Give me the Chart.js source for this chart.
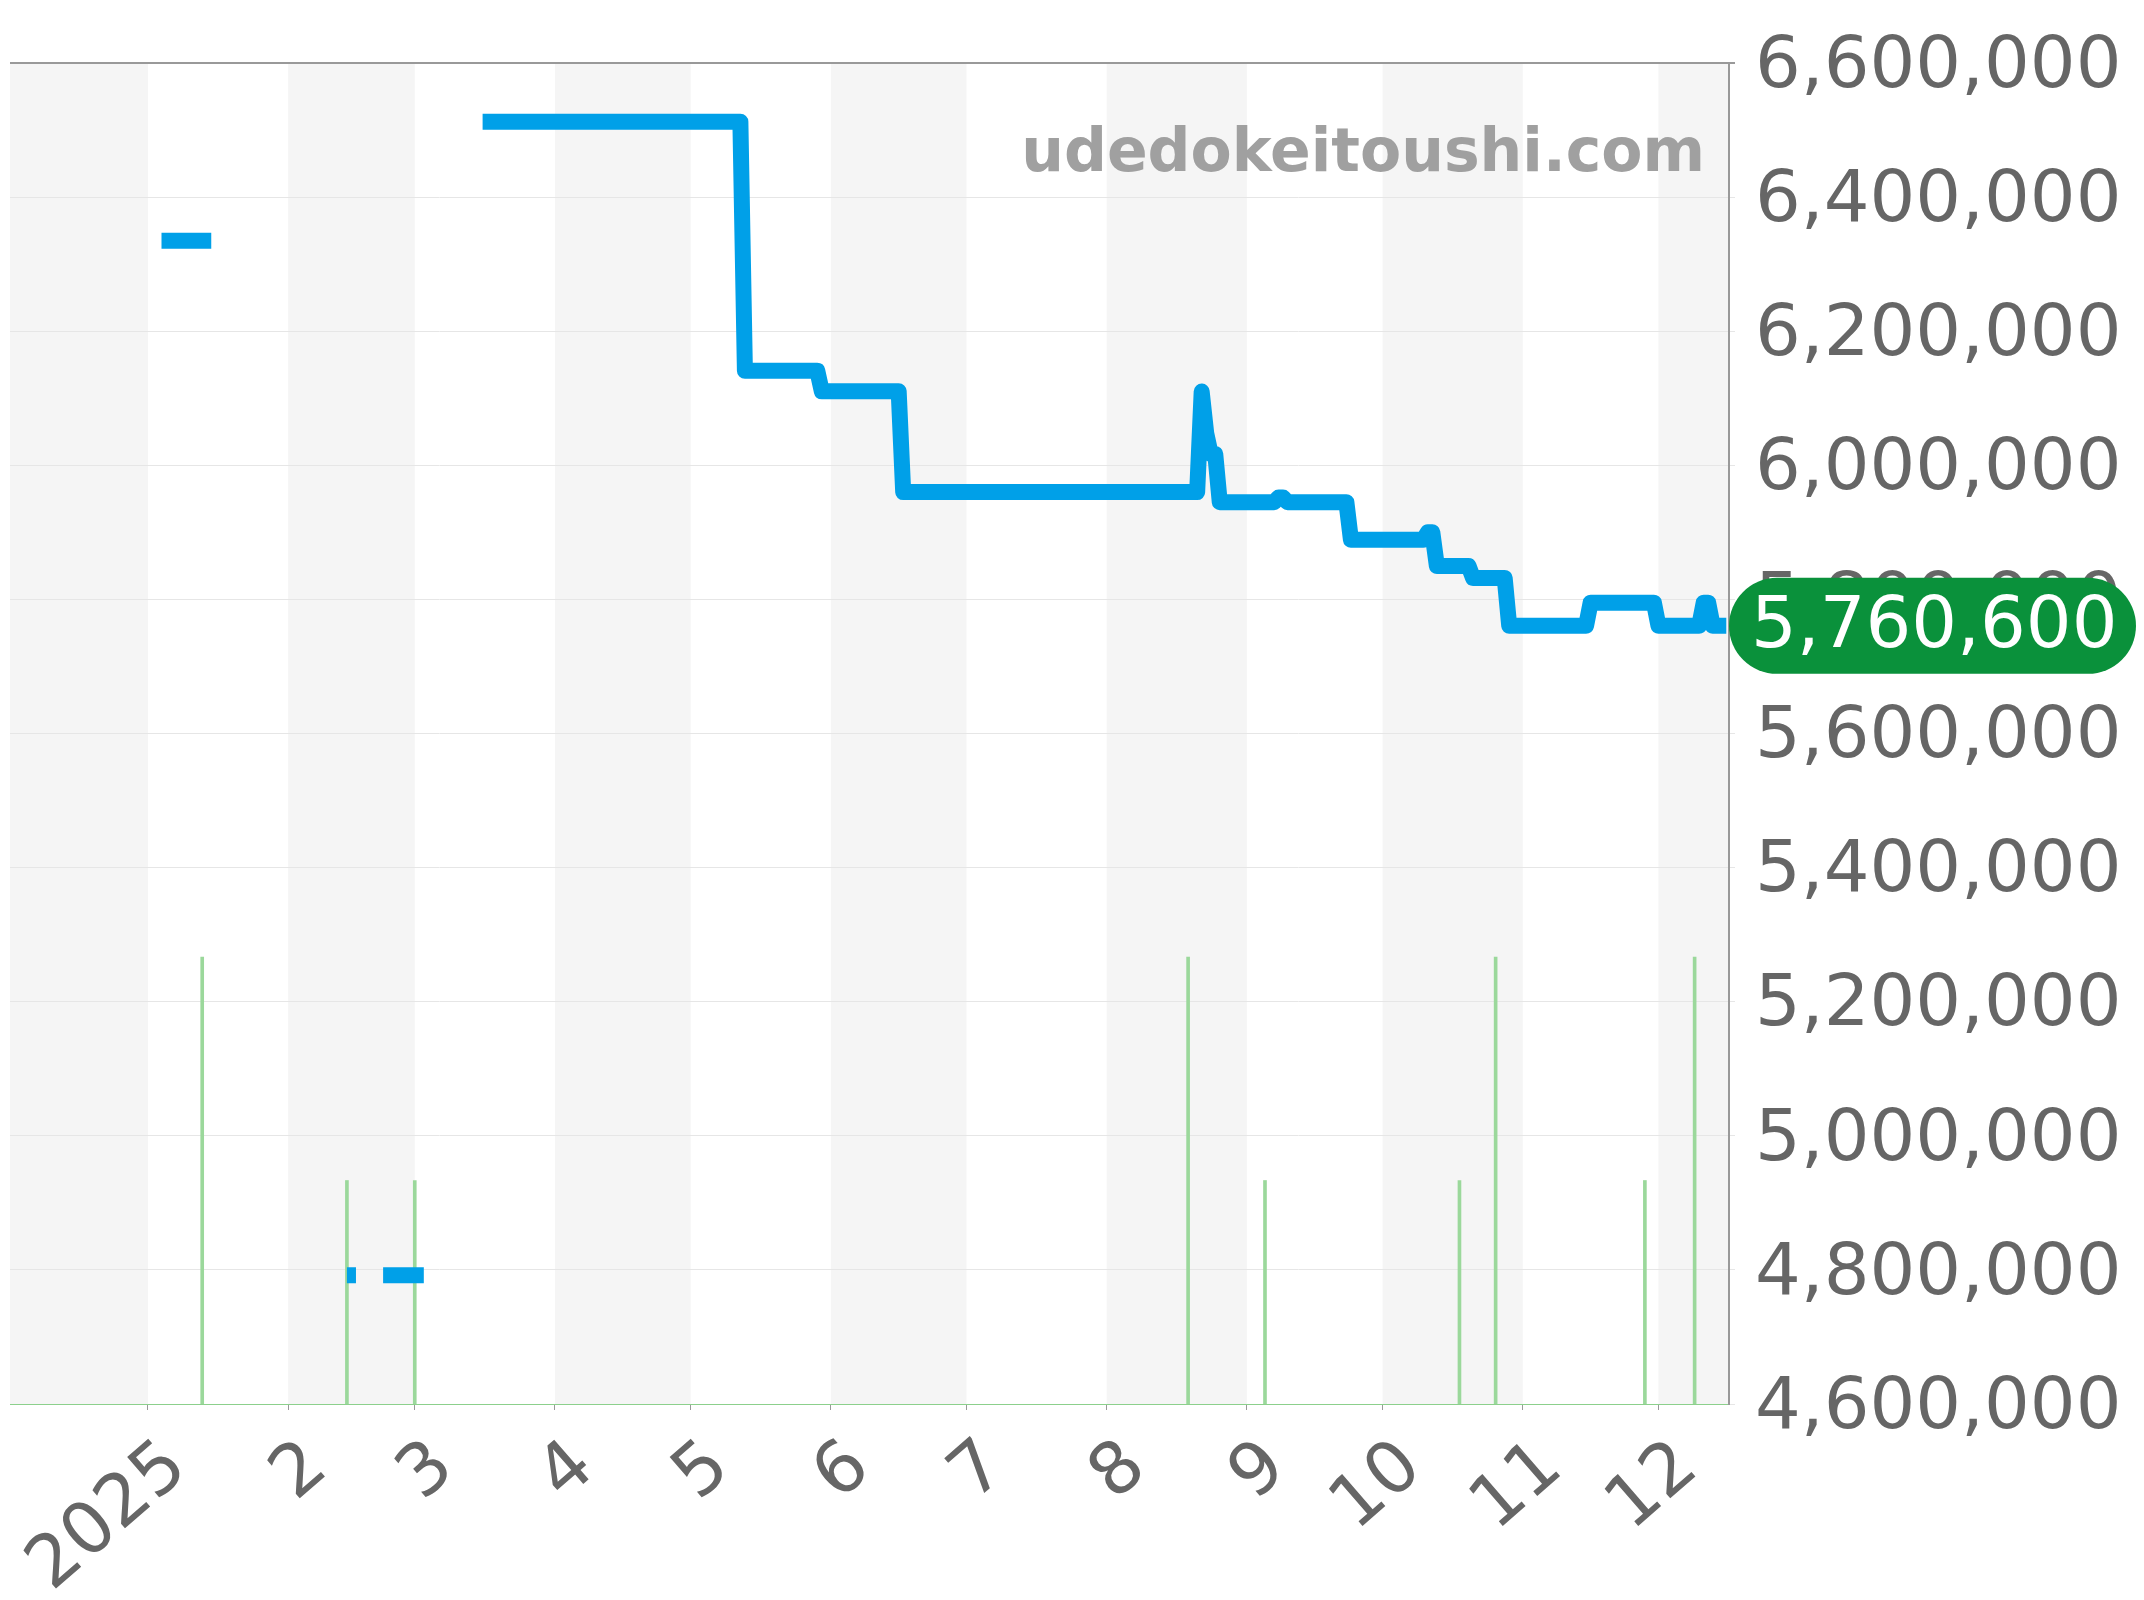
<!DOCTYPE html>
<html>
<head>
<meta charset="utf-8">
<script src="https://cdn.jsdelivr.net/npm/chart.js@4.4.1/dist/chart.umd.min.js"></script>
<style>
  html, body { margin: 0; padding: 0; background: #fff; }
  canvas { display: block; }
</style>
</head>
<body>
<canvas id="myChart" width="2144" height="1600"></canvas>
<script>
// day numbers: 0 = 2025-01-01
const priceDays = [
  3, 14, 15,
  44, 46, 47,
  52, 61, 62,
  74, 131, 132, 148, 149, 166, 167, 232, 233, 234, 235, 236, 237,
  249, 250, 251, 252, 265, 266, 282, 283, 284, 285, 292, 293,
  300, 301, 318, 319, 333, 334, 343, 344, 345, 346, 349
];
const priceValues = [
  6335000, 6335000, null,
  4792000, 4792000, null,
  4792000, 4792000, null,
  6512500, 6512500, 6141000, 6141000, 6110500, 6110500, 5960000, 5960000, 6110000, 6048000, 6017000, 6017000, 5945000,
  5945000, 5952000, 5952000, 5945000, 5945000, 5889000, 5889000, 5900000, 5900000, 5850000, 5850000, 5832000,
  5832000, 5760600, 5760600, 5795000, 5795000, 5760600, 5760600, 5795000, 5795000, 5760600, 5760600
];
const lastPrice = 5760600;

// listing counts (green bars)
const volumeDays = [12, 44, 59, 230, 247, 290, 298, 331, 342];
const volumeCounts = [2, 1, 1, 2, 1, 1, 2, 1, 2];

// month ticks + stripes
const xTickDays = [0, 31, 59, 90, 120, 151, 181, 212, 243, 273, 304, 334];
const xTickLabels = ["2025", "2", "3", "4", "5", "6", "7", "8", "9", "10", "11", "12"];
const stripeEdges = [-31, 0, 31, 59, 90, 120, 151, 181, 212, 243, 273, 304, 334, 365];

const yTickValues = [4600000, 4800000, 5000000, 5200000, 5400000, 5600000, 5800000, 6000000, 6200000, 6400000, 6600000];

const FONT = "'DejaVu Sans', sans-serif";

window.onload = function () {
  const ctx = document.getElementById("myChart");

  // 월별 줄무늬 배경 + 워터마크 + 가격 배지
  const stripes = {
    id: "stripes",
    beforeDraw(chart) {
      const c = chart.ctx;
      const area = chart.chartArea;
      const x = chart.scales.x;
      c.save();
      c.beginPath();
      c.rect(area.left, area.top, area.right - area.left, area.bottom - area.top);
      c.clip();
      c.fillStyle = "#f5f5f5";
      for (let i = 0; i < stripeEdges.length - 1; i += 2) {
        const x0 = x.getPixelForValue(stripeEdges[i]);
        const x1 = x.getPixelForValue(stripeEdges[i + 1]);
        c.fillRect(x0, area.top, x1 - x0, area.bottom - area.top);
      }
      c.restore();
    },
    beforeDatasetsDraw(chart) {
      const c = chart.ctx;
      c.save();
      c.font = "bold 60px " + FONT;
      c.fillStyle = "#a0a0a0";
      c.textAlign = "right";
      c.textBaseline = "alphabetic";
      c.fillText("udedokeitoushi.com", chart.chartArea.right - 24, 171);
      c.restore();
    },
    afterDraw(chart) {
      const c = chart.ctx;
      const y = chart.scales.y.getPixelForValue(lastPrice);
      const left = chart.chartArea.right;
      const right = 2136;
      const h = 96;
      const r = h / 2;
      c.save();
      c.fillStyle = "#0a913b";
      c.beginPath();
      c.moveTo(left + r, y - r);
      c.lineTo(right - r, y - r);
      c.arc(right - r, y, r, -Math.PI / 2, Math.PI / 2);
      c.lineTo(left + r, y + r);
      c.arc(left + r, y, r, Math.PI / 2, Math.PI * 1.5);
      c.closePath();
      c.fill();
      c.font = "72px " + FONT;
      c.fillStyle = "#ffffff";
      c.textAlign = "left";
      c.textBaseline = "middle";
      c.fillText(lastPrice.toLocaleString("en-US"), left + 22, y + 2);
      c.restore();
    },
  };

  new Chart(ctx, {
    type: "line",
    data: {
      datasets: [
        {
          type: "line",
          data: priceDays.map((d, i) => ({ x: d, y: priceValues[i] })),
          borderColor: "#00a0e8",
          borderWidth: 16,
          borderJoinStyle: "round",
          borderCapStyle: "butt",
          pointRadius: 0,
          tension: 0,
          spanGaps: false,
          fill: false,
          order: 1,
        },
        {
          type: "bar",
          data: volumeDays.map((d, i) => ({ x: d, y: volumeCounts[i] })),
          yAxisID: "y2",
          backgroundColor: "#9bd89b",
          barThickness: 3,
          order: 2,
        },
      ],
    },
    options: {
      responsive: false,
      animation: false,
      devicePixelRatio: 1,
      layout: {
        padding: { left: 10, top: 63, right: 0, bottom: 0 },
      },
      plugins: {
        legend: { display: false },
        tooltip: { enabled: false },
      },
      scales: {
        x: {
          type: "linear",
          min: -30.5,
          max: 349.6,
          offset: false,
          afterBuildTicks: (scale) => {
            scale.ticks = xTickDays.map((v) => ({ value: v }));
          },
          afterFit: (scale) => {
            scale.height = 196;
            scale.paddingLeft = 0;
            scale.paddingRight = 0;
          },
          grid: {
            offset: false,
            drawOnChartArea: false,
            drawTicks: true,
            tickLength: 6,
            color: "#999999",
          },
          border: {
            display: true,
            color: "rgba(130,205,130,0.9)",
            width: 1,
            dash: [2, 2],
          },
          ticks: {
            autoSkip: false,
            minRotation: 41,
            maxRotation: 41,
            padding: 15,
            labelOffset: 30,
            color: "#666666",
            font: { family: FONT, size: 72 },
            callback: (value) => xTickLabels[xTickDays.indexOf(value)],
          },
        },
        y: {
          position: "right",
          min: 4600000,
          max: 6600000,
          afterBuildTicks: (scale) => {
            scale.ticks = yTickValues.map((v) => ({ value: v }));
          },
          afterFit: (scale) => {
            scale.width = 415;
            scale.paddingTop = 0;
            scale.paddingBottom = 0;
          },
          grid: {
            color: (c) => (c.tick && c.tick.value === 6600000 ? "#999999" : "#e6e6e6"),
            lineWidth: (c) => (c.tick && c.tick.value === 6600000 ? 2 : 1),
            tickLength: 6,
          },
          border: { color: "#999999", width: 2 },
          ticks: {
            padding: 20,
            labelOffset: 5,
            color: "#666666",
            font: { family: FONT, size: 72 },
            callback: (value) => value.toLocaleString("en-US"),
          },
        },
        y2: {
          display: false,
          min: 0,
          max: 6,
        },
      },
    },
    plugins: [stripes],
  });
};
</script>
</body>
</html>
